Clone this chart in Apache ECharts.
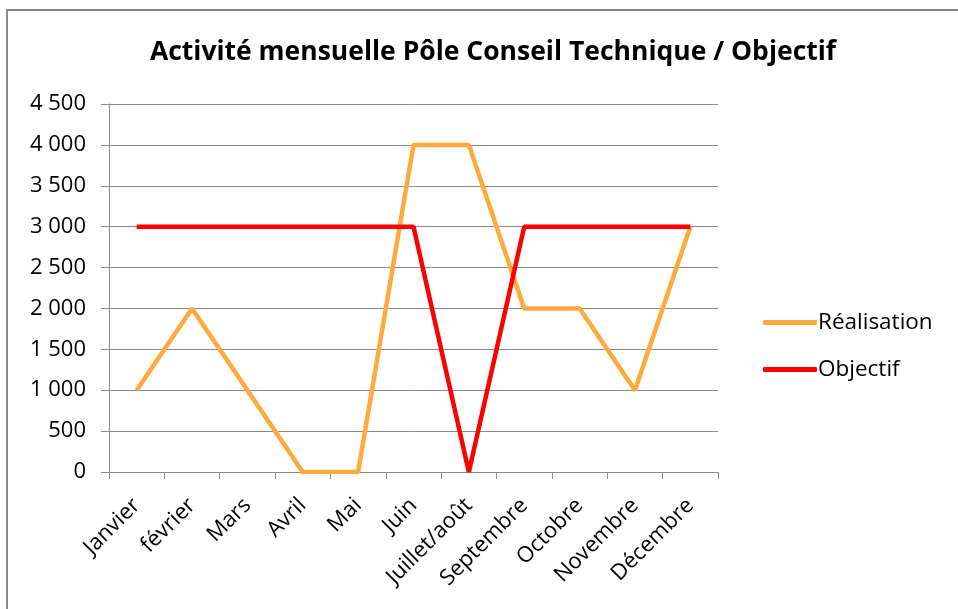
<!DOCTYPE html>
<html>
<head>
<meta charset="utf-8">
<script src="https://cdn.jsdelivr.net/npm/echarts@6/dist/echarts.min.js"></script>
<style>
  html, body { margin: 0; padding: 0; background: #fff; }
  #frame {
    position: absolute; left: 6px; top: 9px; width: 1000px; height: 700px;
    border: 2px solid #8a8a8a;
  }
  #chart { position: absolute; left: 0; top: 0; width: 958px; height: 609px; }
</style>
</head>
<body>
<div id="frame"></div>
<div id="chart"></div>
<script>
const months = ['Janvier', 'février', 'Mars', 'Avril', 'Mai', 'Juin', 'Juillet/août', 'Septembre', 'Octobre', 'Novembre', 'Décembre'];
const realisation = [1000, 2000, 1000, 0, 0, 4000, 4000, 2000, 2000, 1000, 3000];
const objectif = [3000, 3000, 3000, 3000, 3000, 3000, 0, 3000, 3000, 3000, 3000];

const FONT = '"Open Sans", sans-serif';

const chart = echarts.init(document.getElementById('chart'));

function fmtThousands(v) {
  return String(v).replace(/\B(?=(\d{3})+(?!\d))/g, ' ');
}

chart.setOption({
  backgroundColor: 'transparent',
  animation: false,
  title: {
    text: 'Activité mensuelle Pôle Conseil Technique / Objectif',
    left: 488,
    textAlign: 'center',
    top: 34,
    textStyle: { fontFamily: FONT, fontSize: 26.5, fontWeight: 'bold', color: '#000' }
  },
  legend: {
    orient: 'vertical',
    left: 758,
    top: 306,
    itemWidth: 54,
    itemHeight: 5,
    itemGap: 24,
    icon: 'roundRect',
    textStyle: { fontFamily: FONT, fontSize: 22.5, color: '#000', padding: [0, 0, 0, -4] },
    data: ['Réalisation', 'Objectif']
  },
  grid: { left: 109, right: 240, top: 104, bottom: 137 },
  xAxis: {
    type: 'category',
    data: months,
    boundaryGap: true,
    axisLine: { lineStyle: { color: '#8a8a8a', width: 1 } },
    axisTick: { show: true, length: 7, lineStyle: { color: '#8a8a8a' } },
    axisLabel: {
      rotate: 45, interval: 0, margin: 30,
      fontFamily: FONT, fontSize: 22, color: '#000'
    },
    splitLine: { show: false }
  },
  yAxis: {
    type: 'value',
    min: 0, max: 4500, interval: 500,
    axisLine: { show: true, lineStyle: { color: '#8a8a8a', width: 1 } },
    axisTick: { show: true, length: 8, lineStyle: { color: '#8a8a8a' } },
    axisLabel: {
      margin: 23, fontFamily: FONT, fontSize: 22, color: '#000',
      formatter: fmtThousands
    },
    splitLine: { lineStyle: { color: '#8a8a8a', width: 1 } }
  },
  series: [
    {
      name: 'Réalisation',
      type: 'line',
      data: realisation,
      showSymbol: false,
      lineStyle: { color: '#FFAA3C', width: 4.5 },
      itemStyle: { color: '#FFAA3C' },
      z: 2
    },
    {
      name: 'Objectif',
      type: 'line',
      data: objectif,
      showSymbol: false,
      lineStyle: { color: '#FF0000', width: 4.5 },
      itemStyle: { color: '#FF0000' },
      z: 3
    }
  ]
});
</script>
</body>
</html>
